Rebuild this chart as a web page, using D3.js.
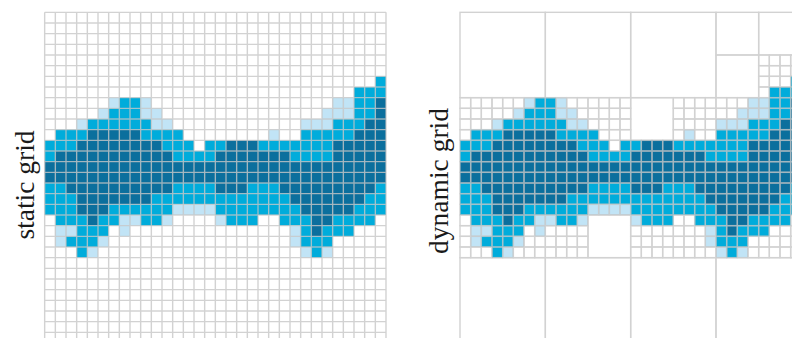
<!DOCTYPE html>
<html>
<head>
<meta charset="utf-8">
<script src="https://cdn.jsdelivr.net/npm/d3@7"></script>
<style>
  html, body { margin: 0; padding: 0; background: #fff; }
  svg { display: block; }
</style>
</head>
<body>
<svg id="chart" width="792" height="338"></svg>
<script>
// Number of cells along each side of the square domain
const gridSize = 32;

// Occupancy level of every cell, one string per grid row
// (0 = empty, 1 = low, 2 = medium, 3 = high)
const levelRows = [
  "00000000000000000000000000000000",
  "00000000000000000000000000000000",
  "00000000000000000000000000000000",
  "00000000000000000000000000000000",
  "00000000000000000000000000000000",
  "00000000000000000000000000000000",
  "00000000000000000000000000000002",
  "00000000000000000000000000000222",
  "00000012210000000000000000011223",
  "00000122211000000000000000111223",
  "00012222221100000000000011122233",
  "02223333322220000000010022222333",
  "22233333333222022333222222233333",
  "23333333333322223333333222233333",
  "33333333333333333333333333333333",
  "33333333333333333333333333333333",
  "22333333333322223332223333333332",
  "22233333332222222222222333333322",
  "22233322222211112222222233333222",
  "02223221122100001222002223322220",
  "01122201000000000000000123222000",
  "01222100000000000000000122200000",
  "00021000000000000000000012100000",
  "00000000000000000000000000000000",
  "00000000000000000000000000000000",
  "00000000000000000000000000000000",
  "00000000000000000000000000000000",
  "00000000000000000000000000000000",
  "00000000000000000000000000000000",
  "00000000000000000000000000000000",
  "00000000000000000000000000000000",
  "00000000000000000000000000000000"
];

// Fill colour for each occupancy level
const levelColors = ["#ffffff", "#c1e4f6", "#00acdb", "#0b6f9d"];

// Panel titles, left to right
const panelTitles = ["static grid", "dynamic grid"];

// Unrefined blocks of the adaptive grid: [col, row, width, height] in cells
const coarseBlocks = [
  [0, 0, 8, 8], [8, 0, 8, 8], [16, 0, 8, 8],
  [24, 0, 4, 4], [28, 0, 4, 4], [24, 4, 4, 4],
  [16, 8, 4, 4], [12, 19, 4, 4],
  [0, 23, 8, 8], [8, 23, 8, 8], [16, 23, 8, 8], [24, 23, 8, 8]
];

// Regions of the adaptive grid refined down to single cells: [col, row, width, height]
const refinedRegions = [
  [0, 8, 32, 15],
  [28, 4, 4, 4]
];

const svg = d3.select("#chart");
const side = 341.33;
const panelLeft = [44.67, 460];
const panelTop = 12.33;

// Flatten the level table into one record per occupied cell
const cells = [];
levelRows.forEach((row, r) => {
  row.split("").forEach((ch, c) => {
    const v = +ch;
    if (v > 0) cells.push({ row: r, col: c, level: v });
  });
});

// Leaves of the adaptive grid
const inCoarse = (c, r) => coarseBlocks.some(([bc, br, bw, bh]) =>
  c >= bc && c < bc + bw && r >= br && r < br + bh);
const leaves = coarseBlocks.map(([c, r, w, h]) => ({ col: c, row: r, w, h }));
refinedRegions.forEach(([rc, rr, rw, rh]) => {
  for (let r = rr; r < rr + rh; r++) {
    for (let c = rc; c < rc + rw; c++) {
      if (!inCoarse(c, r)) leaves.push({ col: c, row: r, w: 1, h: 1 });
    }
  }
});

const gridStroke = "#c4c4c4";
const gridOpacity = 0.75;
const gridWidth = 1.4;

panelTitles.forEach((title, i) => {
  const x = d3.scaleLinear().domain([0, gridSize]).range([panelLeft[i], panelLeft[i] + side]);
  const y = d3.scaleLinear().domain([0, gridSize]).range([panelTop, panelTop + side]);
  const g = svg.append("g").attr("class", "panel");

  // occupied cells
  g.append("g").selectAll("rect")
    .data(cells)
    .join("rect")
    .attr("x", d => x(d.col))
    .attr("y", d => y(d.row))
    .attr("width", d => x(d.col + 1) - x(d.col))
    .attr("height", d => y(d.row + 1) - y(d.row))
    .attr("fill", d => levelColors[d.level]);

  // grid lines, composited as one layer so crossings don't darken
  const lines = g.append("g")
    .attr("opacity", gridOpacity)
    .attr("stroke", gridStroke)
    .attr("stroke-width", gridWidth)
    .attr("fill", "none");

  if (i === 0) {
    const ticks = d3.range(gridSize + 1);
    lines.selectAll("line.v").data(ticks).join("line")
      .attr("class", "v")
      .attr("x1", d => x(d)).attr("x2", d => x(d))
      .attr("y1", y(0)).attr("y2", y(gridSize));
    lines.selectAll("line.h").data(ticks).join("line")
      .attr("class", "h")
      .attr("y1", d => y(d)).attr("y2", d => y(d))
      .attr("x1", x(0)).attr("x2", x(gridSize));
  } else {
    lines.selectAll("rect").data(leaves).join("rect")
      .attr("x", d => x(d.col))
      .attr("y", d => y(d.row))
      .attr("width", d => x(d.col + d.w) - x(d.col))
      .attr("height", d => y(d.row + d.h) - y(d.row));
  }
});

// rotated panel titles
const titlePos = [{ x: 34, y: 185 }, { x: 448, y: 181 }];
svg.selectAll("text.title")
  .data(panelTitles)
  .join("text")
  .attr("class", "title")
  .attr("transform", (d, i) => `translate(${titlePos[i].x},${titlePos[i].y}) rotate(-90)`)
  .attr("text-anchor", "middle")
  .attr("font-family", "'Liberation Serif', 'DejaVu Serif', serif")
  .attr("font-size", 27.5)
  .attr("fill", "#1a1a1a")
  .text(d => d);
</script>
</body>
</html>
